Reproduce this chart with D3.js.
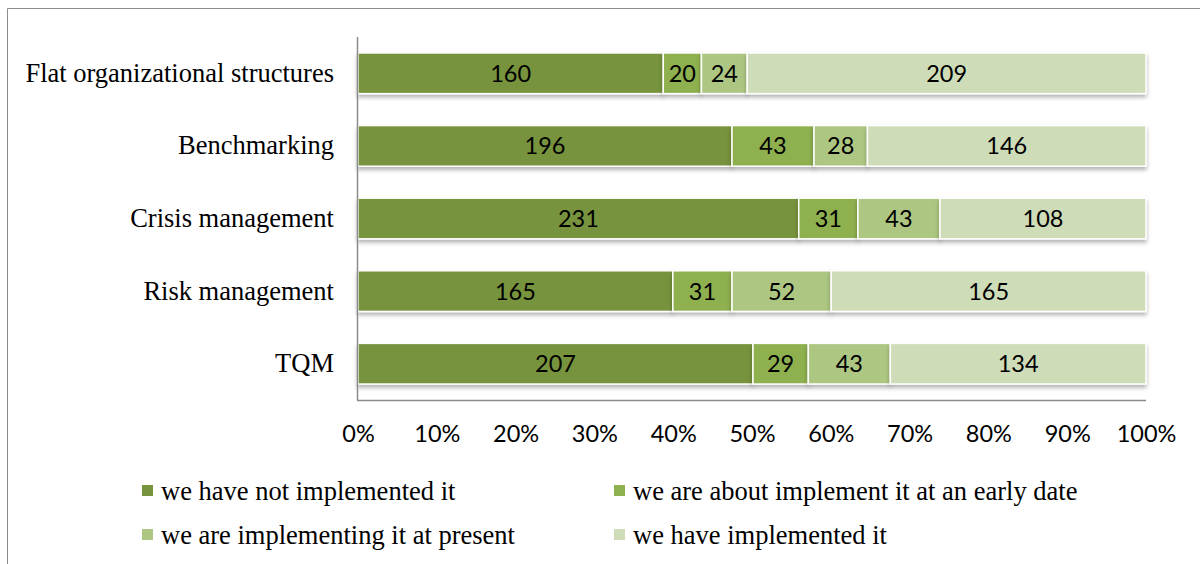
<!DOCTYPE html>
<html><head><meta charset="utf-8">
<script src="https://cdn.jsdelivr.net/npm/d3@7"></script>
<style>body{margin:0;background:#fff}</style>
</head><body>
<svg id="c" width="1200" height="564"></svg>
<script>
const categories = ["Flat organizational structures","Benchmarking","Crisis management","Risk management","TQM"];
const seriesNames = ["we have not implemented it","we are about implement it at an early date","we are implementing it at present","we have implemented it"];
const notImplemented = [160,196,231,165,207];
const aboutToImplement = [20,43,31,31,29];
const implementingNow = [24,28,43,52,43];
const implemented = [209,146,108,165,134];
const colors = ["#77933C","#8FB04F","#ADC782","#CFDCB8"];
const tickLabels = ["0%","10%","20%","30%","40%","50%","60%","70%","80%","90%","100%"];

const series = [notImplemented, aboutToImplement, implementingNow, implemented];
const rows = categories.map((c,i)=>{const o={cat:c}; seriesNames.forEach((s,j)=>o[s]=series[j][i]); return o;});
const norm = rows.map(r=>{const t=d3.sum(seriesNames,s=>r[s]); const o={cat:r.cat}; seriesNames.forEach(s=>o[s]=r[s]/t); return o;});
const stack = d3.stack().keys(seriesNames)(norm);

const svg = d3.select("#c");
const defs = svg.append("defs");
const f = defs.append("filter").attr("id","sh").attr("x","-5%").attr("y","-20%").attr("width","110%").attr("height","160%");
f.append("feDropShadow").attr("dx",0).attr("dy",3).attr("stdDeviation",2).attr("flood-color","#000").attr("flood-opacity",0.3);

// outer frame
svg.append("path").attr("d","M7.5,564 V8.5 H1200").attr("fill","none").attr("stroke","#8c8c8c").attr("stroke-width",1);

const L=358, R=1146, T=37, B=400;
const x = d3.scaleLinear().domain([0,1]).range([L,R]);
const y = d3.scaleBand().domain(categories).range([T,B]).paddingInner(0.44).paddingOuter(0.22);

const serif = "'Liberation Serif', 'Times New Roman', serif";
const sans = "Lato, 'Open Sans', sans-serif";

const g = svg.append("g");
stack.forEach((layer,j)=>{
  const lg = g.append("g").attr("filter","url(#sh)");
  lg.selectAll("rect").data(layer).join("rect")
    .attr("x",d=>x(d[0])).attr("width",d=>x(d[1])-x(d[0]))
    .attr("y",d=>y(d.data.cat)).attr("height",y.bandwidth())
    .attr("fill",colors[j]).attr("stroke","#fff").attr("stroke-width",1.5);
});
stack.forEach((layer,j)=>{
  g.append("g").selectAll("text").data(layer).join("text")
    .attr("x",d=>(x(d[0])+x(d[1]))/2).attr("y",d=>y(d.data.cat)+y.bandwidth()/2)
    .attr("dy","0.36em").attr("text-anchor","middle")
    .attr("font-family",sans).attr("font-size",23.5).attr("fill","#000")
    .text((d,i)=>series[j][i]);
});

// axes lines
svg.append("line").attr("x1",L-0.5).attr("x2",L-0.5).attr("y1",T).attr("y2",B).attr("stroke","#8c8c8c").attr("stroke-width",1.5);
svg.append("line").attr("x1",L-1).attr("x2",R).attr("y1",B+0.5).attr("y2",B+0.5).attr("stroke","#8c8c8c").attr("stroke-width",1.5);

// y labels
const ya = d3.axisLeft(y).tickSize(0).tickPadding(24);
const yg = svg.append("g").attr("transform",`translate(${L},0)`).call(ya);
yg.select(".domain").remove();
yg.selectAll("text").attr("font-family",serif).attr("font-size",26.5).attr("fill","#000");

// x labels
const xa = d3.axisBottom(x).tickValues(d3.range(0,1.0001,0.1)).tickSize(0).tickPadding(25).tickFormat((d,i)=>tickLabels[i]);
const xg = svg.append("g").attr("transform",`translate(0,${B})`).call(xa);
xg.select(".domain").remove();
xg.selectAll("text").attr("font-family",sans).attr("font-size",23.5).attr("fill","#000");

// legend
const lx=[142,614], ly=[491,535];
seriesNames.forEach((s,i)=>{
  const cx=lx[i%2], cy=ly[Math.floor(i/2)];
  svg.append("rect").attr("x",cx).attr("y",cy-6).attr("width",11).attr("height",11).attr("fill",colors[i]);
  svg.append("text").attr("x",cx+19).attr("y",cy).attr("dy","0.35em")
    .attr("font-family",serif).attr("font-size",26.5).attr("fill","#000").text(s);
});
</script>
</body></html>
